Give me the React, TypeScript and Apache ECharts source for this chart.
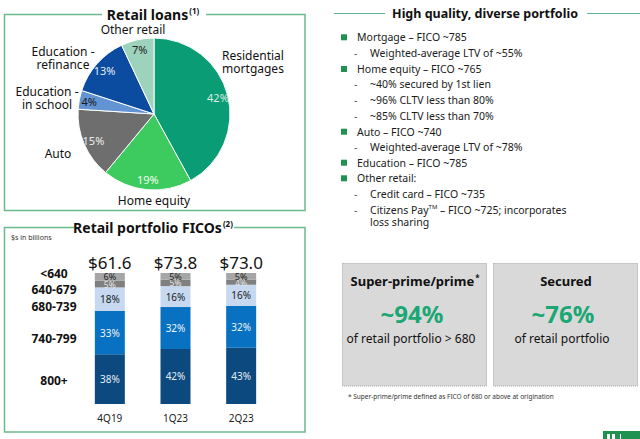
import React, { useEffect, useRef } from "react";
import * as echarts from "echarts";

// ---------- Data ----------
const pieNames = [
  "Residential\nmortgages",
  "Home equity",
  "Auto",
  "Education -\nin school",
  "Education -\nrefinance",
  "Other retail",
];
const pieValues = [42, 19, 15, 4, 13, 7];

const barCategories = ["4Q19", "1Q23", "2Q23"];
const ficoBands = ["800+", "740-799", "680-739", "640-679", "<640"];
const fico800 = [38, 42, 43];
const fico740 = [33, 32, 32];
const fico680 = [18, 16, 16];
const fico640 = [5, 5, 4];
const ficoBelow640 = [6, 5, 5];
const totals = [61.6, 73.8, 73.0];

const bulletLines: [number, string][] = [
  [0, "Mortgage – FICO ~785"],
  [1, "Weighted-average LTV of ~55%"],
  [0, "Home equity – FICO ~765"],
  [1, "~40% secured by 1st lien"],
  [1, "~96% CLTV less than 80%"],
  [1, "~85% CLTV less than 70%"],
  [0, "Auto – FICO ~740"],
  [1, "Weighted-average LTV of ~78%"],
  [0, "Education – FICO ~785"],
  [0, "Other retail:"],
  [1, "Credit card – FICO ~735"],
  [1, "Citizens Pay{sup|TM} – FICO ~725; incorporates"],
  [2, "loss sharing"],
];

// ---------- Styles ----------
const FONT = "Noto Sans";
const pieColors = ["#0A9C74", "#3DCA5E", "#6E6E6E", "#6293D2", "#0B4CA1", "#9DD2BC"];
const pieLabelColors = ["#DDEFE6", "#F2FFF2", "#EDEDED", "#1A1A1A", "#E6EEFA", "#222222"];
const pieNamePos = [
  [253, 62],
  [154, 200],
  [58, 153],
  [47, 98],
  [63, 58],
  [133, 29],
];
const barColors = ["#0B497E", "#0971C1", "#C6D9F1", "#7F7F7F", "#A6A6A6"];
const barLabelColors = ["#E8EEF6", "#EEF4FB", "#1A1A1A", "#E6E6E6", "#222222"];
const barLabelSizes = [10, 10, 10, 8.5, 9];
const bandLabelY = [380, 338, 306, 289, 273];
const BOX_GREEN = "#6CB98A";
const LINE_GREEN = "#5DB392";
const BULLET_GREEN = "#1F9150";
const BIG_GREEN = "#1AA774";

export default function App() {
  const ref = useRef<HTMLDivElement>(null);

  useEffect(() => {
    if (!ref.current) return;
    const chart = echarts.init(ref.current, undefined, { renderer: "svg" });

    const barData = [fico800, fico740, fico680, fico640, ficoBelow640];

    const barSeries: any[] = ficoBands.map((name, i) => ({
      type: "bar",
      name,
      stack: "fico",
      barWidth: 30,
      data: barData[i],
      itemStyle: { color: barColors[i] },
      label: {
        show: true,
        position: "inside",
        formatter: "{c}%",
        fontFamily: FONT,
        fontSize: barLabelSizes[i],
        lineHeight: barLabelSizes[i],
        color: barLabelColors[i],
      },
    }));
    barSeries.push({
      type: "bar",
      name: "total",
      stack: "fico",
      barWidth: 30,
      data: totals.map(() => 0),
      itemStyle: { color: "transparent" },
      label: {
        show: true,
        position: "top",
        distance: 2,
        formatter: (p: any) => "$" + totals[p.dataIndex].toFixed(1),
        fontFamily: FONT,
        fontSize: 17,
        color: "#111",
      },
    });

    const graphics: any[] = [];
    // Left boxes
    graphics.push(
      { type: "rect", shape: { x: 4.5, y: 14.5, width: 300.5, height: 196 }, style: { fill: "none", stroke: BOX_GREEN, lineWidth: 1.5 }, z: 1 },
      { type: "rect", shape: { x: 102, y: 8, width: 104, height: 14 }, style: { fill: "#fff" }, z: 2 },
      {
        type: "text", x: 153, y: 14, z: 3,
        style: {
          text: "{t|Retail loans}{s|(1)}",
          align: "center", verticalAlign: "middle",
          rich: {
            t: { fontFamily: FONT, fontSize: 14, fontWeight: "bold", fill: "#111" },
            s: { fontFamily: FONT, fontSize: 8, fontWeight: "bold", fill: "#111", verticalAlign: "top", padding: [0, 0, 8, 1] },
          },
        },
      },
      { type: "rect", shape: { x: 4.5, y: 227.5, width: 300.5, height: 204.5 }, style: { fill: "none", stroke: BOX_GREEN, lineWidth: 1.5 }, z: 1 },
      { type: "rect", shape: { x: 74, y: 220, width: 160, height: 14 }, style: { fill: "#fff" }, z: 2 },
      {
        type: "text", x: 153, y: 227, z: 3,
        style: {
          text: "{t|Retail portfolio FICOs}{s|(2)}",
          align: "center", verticalAlign: "middle",
          rich: {
            t: { fontFamily: FONT, fontSize: 14, fontWeight: "bold", fill: "#111" },
            s: { fontFamily: FONT, fontSize: 8, fontWeight: "bold", fill: "#111", verticalAlign: "top", padding: [0, 0, 8, 1] },
          },
        },
      },
      { type: "text", x: 11, y: 237, style: { text: "$s in billions", fontFamily: FONT, fontSize: 7, fill: "#333", verticalAlign: "middle" } }
    );
    ficoBands.forEach((b, i) => {
      graphics.push({
        type: "text", x: 54, y: bandLabelY[i],
        style: { text: b, fontFamily: FONT, fontSize: 12, fontWeight: "bold", fill: "#111", align: "center", verticalAlign: "middle" },
      });
    });

    // Right panel title
    graphics.push(
      { type: "line", shape: { x1: 334, y1: 13.5, x2: 385, y2: 13.5 }, style: { stroke: LINE_GREEN, lineWidth: 1.2 } },
      { type: "line", shape: { x1: 587, y1: 13.5, x2: 640, y2: 13.5 }, style: { stroke: LINE_GREEN, lineWidth: 1.2 } },
      {
        type: "text", x: 485, y: 13,
        style: { text: "High quality, diverse portfolio", fontFamily: FONT, fontSize: 12.5, fontWeight: "bold", fill: "#111", align: "center", verticalAlign: "middle" },
      }
    );
    const lineYs = [37.3, 53.3, 69, 84.3, 100, 115.7, 131.7, 147, 162.7, 178.3, 194, 210, 222.3];
    bulletLines.forEach(([lvl, txt], i) => {
      const y = lineYs[i];
      if (lvl === 0) {
        graphics.push({ type: "rect", shape: { x: 341, y: y - 3, width: 6, height: 6 }, style: { fill: BULLET_GREEN } });
      } else if (lvl === 1) {
        graphics.push({ type: "text", x: 354, y, style: { text: "-", fontFamily: FONT, fontSize: 10.5, fill: "#555", verticalAlign: "middle" } });
      }
      graphics.push({
        type: "text", x: lvl === 0 ? 357 : 370, y,
        style: {
          text: txt, fontFamily: FONT, fontSize: 10.5, fill: "#1A1A1A", verticalAlign: "middle",
          rich: {
            sup: { fontFamily: FONT, fontSize: 6, fill: "#1A1A1A", verticalAlign: "top", padding: [0, 0, 6, 0] },
          },
        },
      });
    });

    // Stat boxes
    const boxes = [
      { x: 342, title: "{t|Super-prime/prime}{s|*}", big: "~94%", sub: "of retail portfolio > 680" },
      { x: 493, title: "{t|Secured}", big: "~76%", sub: "of retail portfolio" },
    ];
    boxes.forEach((b) => {
      const cx = b.x + 72;
      graphics.push(
        { type: "rect", shape: { x: b.x + 0.5, y: 263.5, width: 144, height: 122.5 }, style: { fill: "#D9D9D9", stroke: "#A0A0A0", lineWidth: 1, lineDash: [1, 1] } },
        {
          type: "text", x: cx + 1, y: 281,
          style: {
            text: b.title, align: "center", verticalAlign: "middle",
            rich: {
              t: { fontFamily: FONT, fontSize: 13, fontWeight: "bold", fill: "#111" },
              s: { fontFamily: FONT, fontSize: 8, fontWeight: "bold", fill: "#111", verticalAlign: "top", padding: [0, 0, 8, 1] },
            },
          },
        },
        { type: "text", x: cx - 2, y: 313, style: { text: b.big, fontFamily: FONT, fontSize: 24, fontWeight: "bold", fill: BIG_GREEN, align: "center", verticalAlign: "middle" } },
        { type: "text", x: cx - 3, y: 338.5, style: { text: b.sub, fontFamily: FONT, fontSize: 12, fill: "#111", align: "center", verticalAlign: "middle" } }
      );
    });
    graphics.push(
      { type: "text", x: 348, y: 396, style: { text: "* Super-prime/prime defined as FICO of 680 or above at origination", fontFamily: FONT, fontSize: 6.5, fill: "#333", verticalAlign: "middle" } },
      { type: "rect", shape: { x: 603, y: 431, width: 37, height: 8 }, style: { fill: "#1F9150" } },
      { type: "rect", shape: { x: 607, y: 434, width: 3, height: 5 }, style: { fill: "#fff" } },
      { type: "rect", shape: { x: 612, y: 434, width: 3, height: 5 }, style: { fill: "#fff" } },
      { type: "rect", shape: { x: 620, y: 434, width: 1, height: 5 }, style: { fill: "#fff" } }
    );

    chart.setOption({
      animation: false,
      textStyle: { fontFamily: FONT },
      grid: { left: 77, top: 273, width: 197, height: 131 },
      xAxis: {
        type: "category",
        data: barCategories,
        axisLine: { show: false },
        axisTick: { show: false },
        axisLabel: { fontFamily: FONT, fontSize: 10, color: "#222", margin: 9 },
      },
      yAxis: { type: "value", min: 0, max: 100, show: false },
      graphic: graphics,
      series: [
        {
          type: "pie",
          center: [154, 114],
          radius: 76,
          startAngle: 90,
          clockwise: true,
          avoidLabelOverlap: false,
          data: pieNames.map((n, i) => ({ name: n, value: pieValues[i], itemStyle: { color: pieColors[i] } })),
          itemStyle: { borderColor: "#fff", borderWidth: 1 },
          label: {
            show: true,
            position: "outside",
            formatter: "{b}",
            fontFamily: FONT,
            fontSize: 12,
            lineHeight: 13,
            color: "#111",
            align: "center",
          },
          labelLine: { show: false },
          labelLayout: (p: any) => ({
            x: pieNamePos[p.dataIndex][0],
            y: pieNamePos[p.dataIndex][1],
            align: "center",
            verticalAlign: "middle",
          }),
        },
        {
          type: "pie",
          center: [154, 114],
          radius: [50, 76],
          startAngle: 90,
          clockwise: true,
          silent: true,
          data: pieNames.map((n, i) => ({
            name: n,
            value: pieValues[i],
            label: { color: pieLabelColors[i] },
          })),
          itemStyle: { color: "rgba(0,0,0,0)" },
          label: { show: true, position: "inside", formatter: "{c}%", fontFamily: FONT, fontSize: 11 },
          labelLine: { show: false },
        },
        ...barSeries,
      ],
    });

    return () => chart.dispose();
  }, []);

  return <div ref={ref} style={{ position: "absolute", left: 0, top: 0, width: 640, height: 439 }} />;
}
